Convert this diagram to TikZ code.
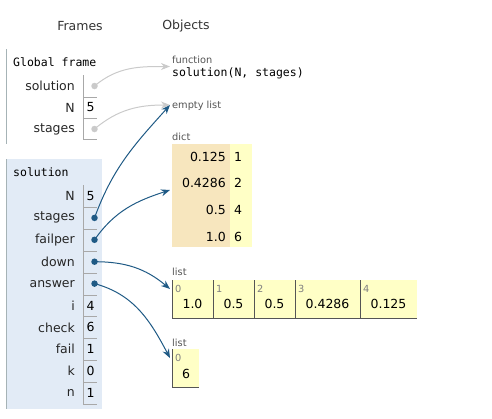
\documentclass[tikz,border=0pt]{standalone}
\usepackage{fontspec}
\setmainfont{DejaVu Sans}
\setmonofont{DejaVu Sans Mono}
\usepackage{tikz}
\usetikzlibrary{arrows.meta}

\definecolor{framebg}{HTML}{E2EBF6}
\definecolor{frameline}{HTML}{A6B3B6}
\definecolor{ptr}{HTML}{1F5A85}
\definecolor{ghost}{HTML}{CACACA}
\definecolor{keybg}{HTML}{F7E6BE}
\definecolor{valbg}{HTML}{FFFFC6}
\definecolor{slotline}{HTML}{A8A8A8}
\definecolor{listline}{HTML}{555555}

\begin{document}
\begin{tikzpicture}[x=1pt,y=1pt]
    \tikzstyle{header}=[inner sep=0pt,font=\fontsize{12.5}{14}\selectfont,text=black!80]
    \tikzstyle{varname}=[anchor=east,inner sep=0pt,font=\fontsize{12.5}{14}\selectfont,text=black!85]
    \tikzstyle{valtext}=[anchor=west,inner sep=0pt,font=\fontsize{12.5}{14}\selectfont]
    \tikzstyle{keytext}=[anchor=east,inner sep=0pt,font=\fontsize{12.5}{14}\selectfont]
    \tikzstyle{elem}=[inner sep=0pt,font=\fontsize{12.5}{14}\selectfont]
    \tikzstyle{codetext}=[anchor=west,inner sep=0pt,font=\ttfamily\fontsize{11.5}{13}\selectfont]
    \tikzstyle{typelabel}=[anchor=west,inner sep=0pt,font=\fontsize{9.8}{11}\selectfont,text=black!67]
    \tikzstyle{idx}=[anchor=west,inner sep=0pt,font=\fontsize{9.8}{11}\selectfont,text=black!50]
    \tikzstyle{slot}=[draw=slotline,line width=0.8pt]
    \tikzstyle{listslot}=[draw=listline,line width=1pt]
    \tikzstyle{refdot}=[circle,fill=ptr,inner sep=0pt,minimum size=6.5pt]
    \tikzstyle{ghostdot}=[refdot,fill=ghost]
    \tikzstyle{arrow}=[draw=ptr,line width=1pt,-{Stealth[length=9pt,width=7pt]}]
    \tikzstyle{ghostarrow}=[arrow,draw=ghost,-{Stealth[length=9pt,width=7pt,fill=ghost]}]

    \useasboundingbox (0,0) rectangle (492,-418);

    \node[header] (frames) at (80,-26) {Frames};
    \node[header] (objects) at (186,-26) {Objects};

    \draw[frameline,line width=1pt] (6.5,-49) -- (6.5,-144);
    \node[codetext] (gtitle) at (13,-62) {Global frame};
    \node[varname] (gsolname) at (75,-86) {solution};
    \node[varname] (gNname) at (75,-107.5) {N};
    \node[varname] (gstagesname) at (75,-129) {stages};
    \draw[slot] (83,-75) |- (97,-97);
    \draw[slot] (83,-97) |- (97,-118);
    \draw[slot] (83,-118) |- (97,-139);
    \node[ghostdot] (gsol) at (94.5,-86) {};
    \node[valtext] (gN) at (86.5,-107.5) {5};
    \node[ghostdot] (gstages) at (94.5,-129) {};

    \fill[framebg] (6,-159) rectangle (102,-409);
    \draw[frameline,line width=1pt] (6.5,-159) -- (6.5,-409);
    \node[codetext] (ftitle) at (13,-172) {solution};
    \node[varname] (Nname) at (75,-196) {N};
    \node[varname] (stagesname) at (75,-217.9) {stages};
    \node[varname] (failpername) at (75,-239.8) {failper};
    \node[varname] (downname) at (75,-261.7) {down};
    \node[varname] (answername) at (75,-283.6) {answer};
    \node[varname] (iname) at (75,-305.5) {i};
    \node[varname] (checkname) at (75,-327.4) {check};
    \node[varname] (failname) at (75,-349.3) {fail};
    \node[varname] (kname) at (75,-371.2) {k};
    \node[varname] (nname) at (75,-393.1) {n};
    \draw[slot] (83,-185) |- (97,-207);
    \draw[slot] (83,-207) |- (97,-229);
    \draw[slot] (83,-229) |- (97,-251);
    \draw[slot] (83,-251) |- (97,-273);
    \draw[slot] (83,-273) |- (97,-295);
    \draw[slot] (83,-295) |- (97,-316);
    \draw[slot] (83,-316) |- (97,-338);
    \draw[slot] (83,-338) |- (97,-360);
    \draw[slot] (83,-360) |- (97,-382);
    \draw[slot] (83,-382) |- (97,-404);
    \node[valtext] (N) at (86.5,-196) {5};
    \node[refdot] (stages) at (94.5,-217.9) {};
    \node[refdot] (failper) at (94.5,-239.8) {};
    \node[refdot] (down) at (94.5,-261.7) {};
    \node[refdot] (answer) at (94.5,-283.6) {};
    \node[valtext] (i) at (86.5,-305.5) {4};
    \node[valtext] (check) at (86.5,-327.4) {6};
    \node[valtext] (fail) at (86.5,-349.3) {1};
    \node[valtext] (k) at (86.5,-371.2) {0};
    \node[valtext] (n) at (86.5,-393.1) {1};

    \node[typelabel] (funclabel) at (172,-59.5) {function};
    \node[codetext] (func) at (172,-73) {solution(N, stages)};
    \coordinate (funcptr) at (170,-66.5);

    \node[typelabel] (empty) at (172,-105.5) {empty list};
    \coordinate (emptyptr) at (170,-105);

    \node[typelabel] (dictlabel) at (172,-136.5) {dict};
    \fill[keybg] (172,-144) rectangle (230,-247);
    \fill[valbg] (230,-144) rectangle (252,-247);
    \node[keytext] (k1) at (226,-156.7) {0.125};
    \node[keytext] (k2) at (226,-183) {0.4286};
    \node[keytext] (k3) at (226,-209.8) {0.5};
    \node[keytext] (k4) at (226,-236.6) {1.0};
    \node[valtext] (v1) at (234,-156.7) {1};
    \node[valtext] (v2) at (234,-183) {2};
    \node[valtext] (v3) at (234,-209.8) {4};
    \node[valtext] (v4) at (234,-236.6) {6};
    \coordinate (dictptr) at (170,-190);

    \node[typelabel] (downlabel) at (172,-271.5) {list};
    \fill[valbg] (172,-280) rectangle (417,-318);
    \draw[listslot] (172,-280) -- (172,-318) -- (417,-318);
    \draw[listslot] (213,-280) -- (213,-318);
    \draw[listslot] (254,-280) -- (254,-318);
    \draw[listslot] (295,-280) -- (295,-318);
    \draw[listslot] (360,-280) -- (360,-318);
    \node[idx] (d0) at (175,-288.5) {0};
    \node[idx] (d1) at (216,-288.5) {1};
    \node[idx] (d2) at (257,-288.5) {2};
    \node[idx] (d3) at (298,-288.5) {3};
    \node[idx] (d4) at (363,-288.5) {4};
    \node[elem] (e0) at (192.5,-304) {1.0};
    \node[elem] (e1) at (233.5,-304) {0.5};
    \node[elem] (e2) at (274.5,-304) {0.5};
    \node[elem] (e3) at (327.5,-304) {0.4286};
    \node[elem] (e4) at (388.5,-304) {0.125};
    \coordinate (downptr) at (170,-289);

    \node[typelabel] (anslabel) at (172,-342.5) {list};
    \fill[valbg] (172,-349) rectangle (199,-387);
    \draw[listslot] (172,-349) -- (172,-387) -- (199,-387);
    \node[idx] (a0) at (175,-357.5) {0};
    \node[elem] (ae0) at (186,-374) {6};
    \coordinate (ansptr) at (170,-358);

    \path[ghostarrow] (gsol.center) to[out=40,in=180] (funcptr);
    \path[ghostarrow] (gstages.center) to[out=40,in=180] (emptyptr);
    \path[arrow] (stages.center) to[out=70,in=228] (emptyptr);
    \path[arrow] (failper.center) to[out=55,in=198] (dictptr);
    \path[arrow] (down.center) to[out=0,in=140] (downptr);
    \path[arrow] (answer.center) to[out=-15,in=118] (ansptr);
\end{tikzpicture}
\end{document}
